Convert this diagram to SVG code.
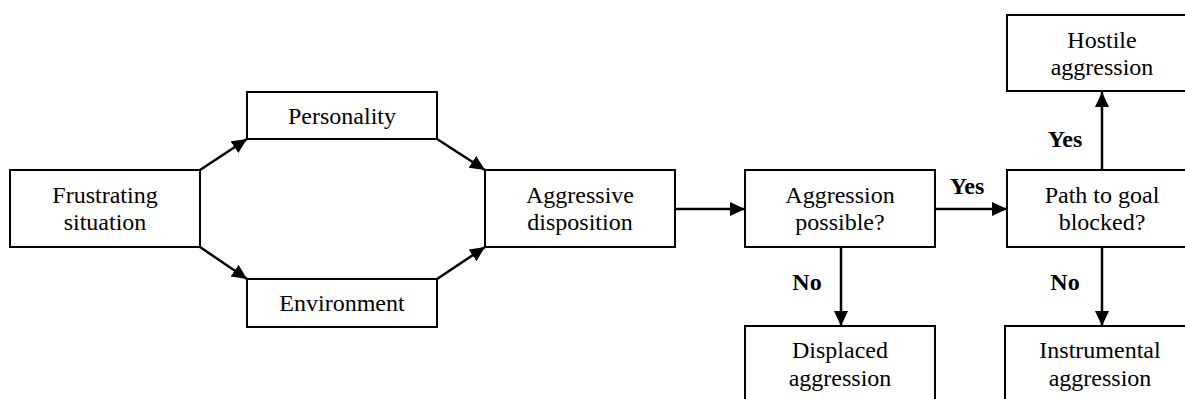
<svg xmlns="http://www.w3.org/2000/svg" width="1185" height="399" viewBox="0 0 1185 399">
  <style>
    .box { fill: #ffffff; stroke: #000000; stroke-width: 2; }
    .lbl { font-family: "Liberation Serif", "Times New Roman", serif; font-size: 24px; fill: #000000; text-anchor: middle; }
    .yn { font-family: "Liberation Serif", "Times New Roman", serif; font-size: 24px; font-weight: bold; fill: #000000; text-anchor: middle; }
    .edge { stroke: #000000; stroke-width: 2.5; fill: none; marker-end: url(#head); }
  </style>
  <defs>
    <marker id="head" markerUnits="userSpaceOnUse" markerWidth="15" markerHeight="15" refX="15" refY="7" orient="auto">
      <path d="M0,0 L15,7 L0,14 Z" fill="#000000"/>
    </marker>
  </defs>
  <rect width="1185" height="399" fill="#ffffff"/>

  <g id="connectors">
    <line class="edge" x1="200" y1="170" x2="247" y2="139"/>
    <line class="edge" x1="200" y1="247" x2="247" y2="279"/>
    <line class="edge" x1="437" y1="139" x2="485" y2="170"/>
    <line class="edge" x1="437" y1="279" x2="485" y2="247"/>
    <line class="edge" x1="675" y1="209" x2="745" y2="209"/>
    <line class="edge" x1="935" y1="209" x2="1007" y2="209"/>
    <line class="edge" x1="841" y1="247" x2="841" y2="326"/>
    <line class="edge" x1="1102" y1="170" x2="1102" y2="92"/>
    <line class="edge" x1="1102" y1="247" x2="1102" y2="326"/>
    <text class="yn" x="967" y="194">Yes</text>
    <text class="yn" x="1065" y="147">Yes</text>
    <text class="yn" x="807" y="290">No</text>
    <text class="yn" x="1065" y="290">No</text>
  </g>

  <g id="frustrating">
    <rect class="box" x="10" y="170" width="190" height="77"/>
    <text class="lbl" x="105" y="203">Frustrating</text>
    <text class="lbl" x="105" y="230">situation</text>
  </g>

  <g id="personality">
    <rect class="box" x="247" y="92" width="190" height="47"/>
    <text class="lbl" x="342" y="124">Personality</text>
  </g>

  <g id="environment">
    <rect class="box" x="247" y="279" width="190" height="48"/>
    <text class="lbl" x="342" y="311">Environment</text>
  </g>

  <g id="aggressive">
    <rect class="box" x="485" y="170" width="190" height="77"/>
    <text class="lbl" x="580" y="203">Aggressive</text>
    <text class="lbl" x="580" y="230">disposition</text>
  </g>

  <g id="possible">
    <rect class="box" x="745" y="170" width="190" height="77"/>
    <text class="lbl" x="840" y="203">Aggression</text>
    <text class="lbl" x="840" y="230">possible?</text>
  </g>

  <g id="blocked">
    <rect class="box" x="1007" y="170" width="190" height="77"/>
    <text class="lbl" x="1102" y="203">Path to goal</text>
    <text class="lbl" x="1102" y="230">blocked?</text>
  </g>

  <g id="hostile">
    <rect class="box" x="1007" y="15" width="190" height="76"/>
    <text class="lbl" x="1102" y="48">Hostile</text>
    <text class="lbl" x="1102" y="75">aggression</text>
  </g>

  <g id="displaced">
    <rect class="box" x="745" y="326" width="190" height="90"/>
    <text class="lbl" x="840" y="358">Displaced</text>
    <text class="lbl" x="840" y="386">aggression</text>
  </g>

  <g id="instrumental">
    <rect class="box" x="1005" y="326" width="190" height="90"/>
    <text class="lbl" x="1100" y="358">Instrumental</text>
    <text class="lbl" x="1100" y="386">aggression</text>
  </g>
</svg>
